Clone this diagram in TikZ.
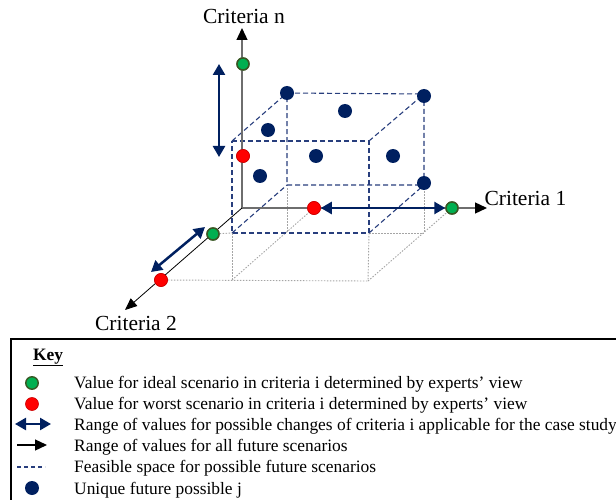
\documentclass[tikz,border=0pt]{standalone}
\usepackage{fontspec}
\setmainfont{Liberation Serif}
\usetikzlibrary{arrows.meta}
\definecolor{navy}{RGB}{0,32,96}
\definecolor{dashblue}{RGB}{40,62,125}
\definecolor{gdot}{RGB}{0,176,80}
\definecolor{gedge}{RGB}{56,87,35}
\definecolor{axgray}{RGB}{110,110,110}
\definecolor{dotgray}{RGB}{165,165,165}
\begin{document}
\begin{tikzpicture}[x=1pt,y=-1pt,
 greendot/.style={circle,fill=gdot,draw=gedge,line width=1.4pt,minimum size=12pt,inner sep=0pt},
 reddot/.style={circle,fill=red,draw=red!80!black,line width=0.6pt,minimum size=13pt,inner sep=0pt},
 futdot/.style={circle,fill=navy,minimum size=14pt,inner sep=0pt},
 feas/.style={dashblue,line width=1.1pt,dash pattern=on 5pt off 3pt},
 proj/.style={dotgray,line width=0.9pt,dash pattern=on 1.5pt off 1.5pt},
 rangearr/.style={navy,line width=2.5pt,{Triangle[length=11pt,width=12pt]}-{Triangle[length=11pt,width=12pt]}},
 axis/.style={axgray,line width=1.3pt,-{Triangle[length=12pt,width=11pt,color=black]}},
 lbl/.style={font=\fontsize{21.5}{25}\selectfont},
 keytext/.style={font=\fontsize{17.4}{20}\selectfont,anchor=base west,inner sep=0pt}
]
\useasboundingbox (0,0) rectangle (616,500);
\clip (0,0) rectangle (616,500);

% cube corners
\coordinate (F1) at (232,141);
\coordinate (F2) at (369,141);
\coordinate (F3) at (369,233);
\coordinate (F4) at (232,233);
\coordinate (B1) at (287,93);
\coordinate (B2) at (424,94);
\coordinate (B3) at (424,185);
\coordinate (B4) at (287,185);
\coordinate (P1) at (287,233);
\coordinate (P2) at (424,233);
\coordinate (L1) at (232,280);
\coordinate (L2) at (368,281);

% axes points
\coordinate (O) at (242,208);
\coordinate (ntip) at (242,28);
\coordinate (onetip) at (487,208);
\coordinate (twotip) at (125,310);

\node[greendot] (gn) at (243,64) {};
\node[reddot] (rn) at (243,156) {};
\node[reddot] (r1) at (314,208) {};
\node[greendot] (g1) at (452,208) {};
\node[greendot] (g2) at (213,234) {};
\node[reddot] (r2) at (161,280) {};

% projection (dotted gray)
\draw[proj] (r2) -- (L2);
\draw[proj] (g2) -- (F4);
\draw[proj] (F4) -- (L1);
\draw[proj] (F3) -- (L2);
\draw[proj] (B4) -- (P1);
\draw[proj] (B3) -- (P2);
\draw[proj] (F3) -- (P2);
\draw[proj] (L1) -- (r1);
\draw[proj] (L2) -- (g1);

% feasible space (dashed cube)
\draw[feas] (F1) -- (F2) -- (F3) -- (F4) -- cycle;
\draw[feas] (B1) -- (B2) -- (B3) -- (B4) -- cycle;
\draw[feas] (F1) -- (B1);
\draw[feas] (F2) -- (B2);
\draw[feas] (F3) -- (B3);
\draw[feas] (F4) -- (B4);

% axes
\draw[axis] (O) -- (ntip);
\draw[axis] (O) -- (onetip);
\draw[black,line width=0.8pt,-{Triangle[length=12pt,width=10pt]}] (O) -- (twotip);

% dots redrawn on top
\node[greendot] at (gn) {};
\node[reddot] at (rn) {};
\node[reddot] at (r1) {};
\node[greendot] at (g1) {};
\node[greendot] at (g2) {};
\node[reddot] at (r2) {};

% future scenarios
\node[futdot] (s1) at (287,93) {};
\node[futdot] (s2) at (424,96) {};
\node[futdot] (s3) at (424,183) {};
\node[futdot] (s4) at (345,111) {};
\node[futdot] (s5) at (268,130) {};
\node[futdot] (s6) at (316,156) {};
\node[futdot] (s7) at (393,156) {};
\node[futdot] (s8) at (260,176) {};

% ranges
\coordinate (va) at (219,64);
\coordinate (vb) at (219,157);
\draw[rangearr] (va) -- (vb);
\draw[rangearr] (r1) -- (g1);
\coordinate (da) at (151,272);
\coordinate (db) at (205,227);
\draw[rangearr] (da) -- (db);

% labels
\node[lbl] (labn) at (244,16) {Criteria n};
\node[lbl,anchor=west] (lab1) at (481,198) {Criteria 1};
\node[lbl] (lab2) at (136,323) {Criteria 2};

% legend
\draw[line width=1.8pt] (11,339) rectangle (640,530);
\node[font=\fontsize{17.4}{20}\selectfont\bfseries,anchor=base west,inner sep=0pt] (key) at (33,360) {\underline{Key}};
\node[greendot,minimum size=12.5pt] (kg) at (32,383) {};
\node[reddot] (kr) at (32,404) {};
\coordinate (ka1) at (15,424); \coordinate (ka2) at (51,424);
\draw[rangearr] (ka1) -- (ka2);
\coordinate (kb1) at (17,445); \coordinate (kb2) at (47,445);
\draw[black,line width=1.3pt,-{Triangle[length=12pt,width=11pt]}] (kb1) -- (kb2);
\coordinate (kc1) at (17,467); \coordinate (kc2) at (45,467);
\draw[feas,dash pattern=on 4pt off 3pt] (kc1) -- (kc2);
\node[futdot] (kf) at (32,488) {};
\node[keytext] (t1) at (74,388) {Value for ideal scenario in criteria i determined by experts’ view};
\node[keytext] (t2) at (74,409) {Value for worst scenario in criteria i determined by experts’ view};
\node[keytext] (t3) at (74,430) {Range of values for possible changes of criteria i applicable for the case study};
\node[keytext] (t4) at (74,451) {Range of values for all future scenarios};
\node[keytext] (t5) at (74,472) {Feasible space for possible future scenarios};
\node[keytext] (t6) at (74,494) {Unique future possible j};
\end{tikzpicture}
\end{document}
